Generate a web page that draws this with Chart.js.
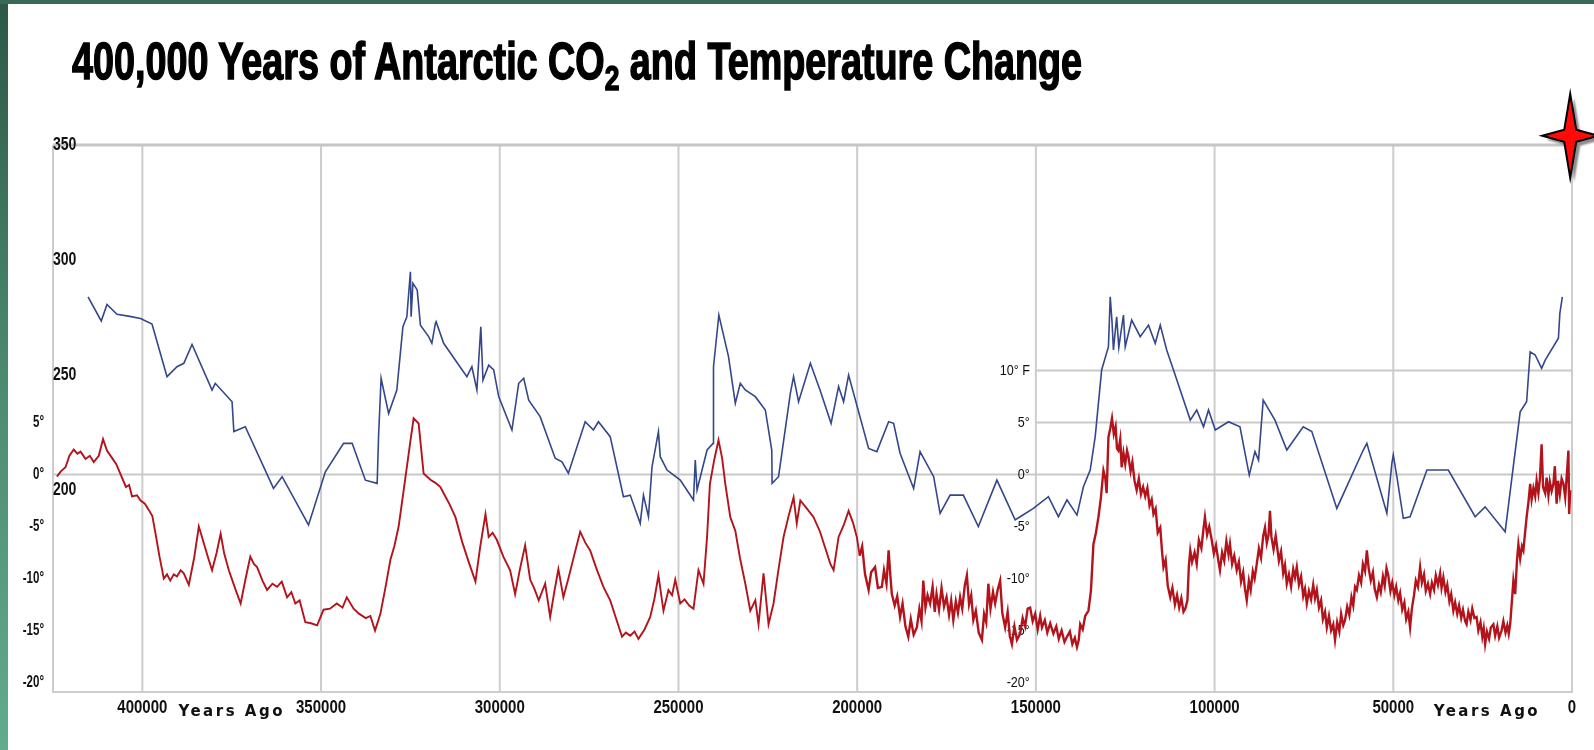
<!DOCTYPE html>
<html>
<head>
<meta charset="utf-8">
<script src="https://cdn.jsdelivr.net/npm/chart.js@4.4.1/dist/chart.umd.min.js"></script>
<style>
  html, body { margin: 0; padding: 0; background: #ffffff; }
  body { width: 1594px; height: 750px; position: relative; overflow: hidden; }
  canvas { position: absolute; left: 0; top: 0; }
  #frameLeft { position: absolute; left: 0; top: 0; width: 8px; height: 750px;
    background: linear-gradient(#2c5847, #4c8a70 50%, #62ab8e); }
  #frameTop { position: absolute; left: 0; top: 0; width: 1594px; height: 4px; background: #3b6957; }
  #title { position: absolute; left: 72px; top: 36px; white-space: nowrap; color: #000;
    font-family: "Liberation Sans Narrow", "Liberation Sans", sans-serif; font-weight: bold;
    font-size: 51px; line-height: 52px; -webkit-text-stroke: 1.5px #000; transform-origin: 0 0; }
  #title .sub { font-size: 0.7em; position: relative; top: 0.3em; }
</style>
</head>
<body>
<canvas id="chart" width="1594" height="750"></canvas>
<div id="frameLeft"></div>
<div id="frameTop"></div>
<div id="title">400,000 Years of Antarctic CO<span class="sub">2</span> and Temperature Change</div>
<script>
// Axis ticks and labels
const yearTicks = [400000, 350000, 300000, 250000, 200000, 150000, 100000, 50000, 0];
const yearTickLabels = ['400000', '350000', '300000', '250000', '200000', '150000', '100000', '50000', '0'];
const co2Ticks = [350, 300, 250, 200];
const co2TickLabels = ['350', '300', '250', '200'];
const tempTicksLeft = [5, 0, -5, -10, -15, -20];
const tempLabelsLeft = ['5°', '0°', '-5°', '-10°', '-15°', '-20°'];
const tempTicksRight = [10, 5, 0, -5, -10, -15, -20];
const tempLabelsRight = ['10° F', '5°', '0°', '-5°', '-10°', '-15°', '-20°'];
const axisTitle = 'Years Ago';
const axisTitleAges = [375000, 23800];
const todayMarker = [500, 354]; // [years ago, ppm]

// CO2 record: [years ago, ppm]
const co2Record = [
  [415200,284],[411500,273.5],[409900,280.7],[407100,276.4],[403500,275.5],[400500,274.6],[397300,272.2],
  [393100,249.3],[390300,253.6],[388400,255.1],[386100,263.3],[380500,243.5],[379600,246.4],[374900,238.4],
  [374400,225.4],[371200,227.5],[363300,200.7],[360900,205.8],[353500,184.8],[348800,207.9],[343700,220.3],
  [341300,220.3],[337600,204.3],[334300,202.9],[333900,223.9],[333200,248.6],[331100,233.3],[328800,243.5],
  [327100,271],[326000,275.3],[325000,294.9],[324800,275.3],[324300,289.9],[323100,287],[322200,271.7],
  [319900,266.7],[319000,263.8],[318000,272.5],[317800,273.2],[315700,263.8],[309200,249.3],[307800,253.6],
  [306400,243.5],[305300,271],[304700,247.8],[303100,254.3],[301700,252.2],[300300,240.6],[296600,226.1],
  [294700,246.4],[293300,248.6],[291900,239.1],[288700,231.9],[284500,213.8],[282600,212.3],[280800,207.3],
  [276100,229.7],[273800,226.1],[272400,229.7],[269100,223.2],[265400,197.1],[263500,197.8],[260700,185.5],
  [259800,197.8],[258400,188.4],[257400,210.1],[255600,225.4],[255100,214.5],[253200,208.7],[249500,204.3],
  [245800,195.7],[245300,213],[244800,200],[242000,217.4],[240300,220.3],[240200,253.6],[238700,276.1],
  [236000,258],[234100,237.7],[232700,246.4],[231300,243.5],[228500,240.6],[225700,234.8],[223900,217.4],
  [223800,202.9],[222000,205.8],[218700,242],[217800,249.3],[216400,238.4],[213100,255.1],[210400,243.5],
  [207300,229],[205200,245],[203800,238.4],[202400,250],[196800,218.1],[194500,216.7],[191200,229.7],
  [189800,229],[188000,216],[184200,200.7],[182400,216.7],[178600,205.8],[176800,189.9],[174000,197.8],
  [170300,197.8],[166100,184.1],[160900,204.3],[155800,187],[154400,188.4],[150700,192],[146500,197.1],
  [143700,188.4],[141300,195.7],[138500,189.1],[136700,201.4],[134800,208.7],[133400,223.2],[131600,252.2],
  [129700,262.3],[129200,284],[128700,273.2],[128300,260.9],[127400,275.3],[126800,262],[125500,276.1],
  [125000,262.3],[123200,273.9],[120800,266.7],[118500,271.7],[116600,263.8],[115200,271.7],[113400,260.9],
  [111500,252.2],[106800,230.4],[105000,234.8],[103100,227.5],[101700,234.8],[99800,226.1],[96100,229.7],
  [92900,227.5],[90300,206.5],[88700,216.7],[87700,213],[86400,239.1],[83100,230.4],[79800,217.4],
  [75200,227.5],[72800,225.4],[65800,192],[58400,217.4],[57400,220.3],[51800,189.9],[50400,211.6],
  [50000,215.2],[49000,205.8],[47200,187.7],[45300,188.4],[40600,208.7],[34600,208.7],[27100,188.4],
  [24300,192.7],[18700,181.9],[16900,204.3],[14500,234],[12700,238.4],[11700,260.1],[10300,258.7],
  [8500,252.9],[7500,256.5],[3800,266],[3400,276.8],[2700,284]
];

// Temperature change record: [years ago, °C relative to present]
const tempRecord = [
  [423900,-0.2],[422800,0.3],[421500,0.7],[420400,1.8],[419200,2.4],[418200,2.0],[417300,2.2],[415900,1.5],
  [414700,1.8],[413600,1.2],[412200,1.8],[411000,3.4],[409900,2.3],[408500,1.6],[407300,1.0],[406200,0.1],
  [404600,-1.2],[403700,-1.0],[402900,-2.1],[401500,-2.0],[400500,-2.5],[399300,-2.8],[398200,-3.4],
  [397200,-4.0],[396300,-5.7],[395200,-7.9],[394000,-10],[393100,-9.6],[392200,-10.2],[391200,-9.6],
  [390300,-9.8],[389300,-9.2],[388400,-9.5],[387000,-10.6],[385500,-8],[384200,-5],[383500,-5.8],[382800,-6.6],
  [381600,-8.0],[380500,-9.2],[379200,-7.5],[378100,-5.7],[377100,-7.6],[375800,-9.2],[374200,-10.8],
  [372500,-12.4],[371100,-10.0],[369800,-7.9],[368800,-8.6],[367900,-8.9],[366400,-10.2],[365100,-11.1],
  [363600,-10.5],[362300,-10.8],[361000,-10.3],[359500,-11.8],[358300,-11.3],[357200,-12.4],[356000,-12.1],
  [354400,-14.2],[352800,-14.3],[351100,-14.5],[349300,-13],[347500,-12.9],[345600,-12.4],[344000,-12.8],
  [342800,-11.8],[340900,-12.9],[339300,-13.4],[337500,-13.8],[336200,-13.6],[334900,-15],[333400,-13.4],
  [332000,-10.9],[330600,-8.2],[329500,-6.9],[328300,-5],[327200,-2.3],[326000,0.7],[325000,3.2],[324100,5.4],
  [322700,4.9],[321300,0.1],[319400,-0.5],[318000,-0.8],[316600,-1.2],[315700,-1.8],[314000,-2.9],
  [312400,-4.1],[310500,-6.5],[308700,-8.4],[306800,-10.3],[305500,-7.0],[304000,-3.8],[303100,-6],
  [302000,-5.6],[300800,-6.3],[299000,-7.9],[297100,-9.2],[295700,-11.5],[294300,-9.0],[292900,-6.8],
  [291500,-10.1],[290300,-11.0],[289100,-12.1],[287300,-10.5],[285900,-13.7],[284700,-11.2],[283600,-9.1],
  [282200,-11.8],[280800,-10],[279200,-7.8],[277500,-5.5],[276000,-6.6],[274700,-7.3],[273000,-9.0],
  [271000,-10.8],[269100,-12.1],[267500,-13.8],[265800,-15.6],[264700,-15.2],[263500,-15.5],[262300,-15.1],
  [261200,-15.8],[259500,-14.9],[257900,-13.7],[256700,-11.9],[255600,-9.7],[254200,-13.1],[252800,-11.1],
  [251800,-11.6],[250900,-10.1],[249500,-12.4],[248300,-12.0],[247000,-12.6],[245800,-12.9],[244400,-9.2],
  [243000,-10.5],[242000,-6.0],[241200,-0.9],[240000,1.4],[238800,3.3],[237800,1.6],[236900,-0.9],
  [235500,-4.1],[234100,-5.4],[232800,-8.0],[231300,-10.5],[229900,-13.1],[228500,-12.1],[227600,-14.4],
  [226200,-9.5],[224800,-14.4],[223400,-12.4],[222000,-9.1],[220600,-6],[219200,-4.0],[217800,-2.2],
  [216900,-4.7],[215900,-2.5],[214000,-3.3],[212200,-4.1],[210400,-5.5],[209000,-7.0],[207500,-8.6],
  [206600,-9.2],[205200,-6],[203800,-4.9],[202400,-3.5],[201200,-4.6],
  [200100,-6.0],[199300,-7.8],[198600,-6.9],[197800,-9.6],[196800,-11.1],[196100,-9.4],[195000,-8.9],
  [194200,-10.9],[193100,-10.8],[192500,-9.2],[191800,-10.5],[191200,-7.3],[190700,-9.8],[190300,-11.5],
  [189500,-12.6],[188800,-11.7],[188000,-13.7],[187300,-12.4],[186500,-14.6],[185700,-15.6],[185000,-13.9],
  [184200,-15.4],[183300,-14.7],[182600,-12.9],[182000,-14.1],[181500,-10.2],[180900,-12.8],[180300,-11.6],
  [179600,-12.4],[178900,-10.8],[178300,-13.2],[177800,-11.5],[177100,-13.0],[176400,-10.9],[175700,-12.7],
  [175000,-11.8],[174300,-13.5],[173700,-12.1],[173100,-14.0],[172400,-12.2],[171800,-13.3],[171200,-11.8],
  [170600,-12.9],[169900,-10.7],[169300,-9.7],[168700,-12.5],[168100,-11.6],[167500,-14.0],[166800,-13.1],
  [166000,-15.2],[165100,-15.9],[164500,-13.4],[163900,-14.2],[163300,-10.5],[162700,-12.9],[162000,-11.3],
  [161400,-12.4],[160700,-11.1],[160000,-10.2],[159400,-13.3],[158600,-14.7],[157900,-13.2],[157300,-15.5],
  [156700,-16.3],[156000,-14.6],[155300,-15.9],[154400,-15.3],[153700,-13.8],[153000,-14.6],[152300,-12.9],
  [151600,-12.8],[150900,-14.1],[150200,-13.4],[149500,-14.9],[148800,-13.6],[148300,-14.7],[147500,-14.0],
  [146800,-15.2],[146000,-14.3],[145100,-15.3],[144300,-14.6],[143600,-15.8],[142800,-15.0],[142000,-16.1],
  [141300,-15.6],[140500,-15.1],[139800,-16.3],[139100,-15.7],[138500,-16.6],[138000,-15.9],[137600,-14.4],
  [136900,-14.9],[136200,-13.6],[135300,-13.1],[134600,-11.2],[133900,-6.7],[133200,-5.6],[132500,-4.1],
  [131800,-2.2],[131100,0.4],[130600,-0.3],[130200,-1.8],[129700,3.6],[129200,4.4],[128700,5.4],
  [128200,3.9],[127700,4.6],[127300,2.5],[126900,2.3],[126400,3.4],[126000,0.7],[125500,2.1],[125000,1.0],
  [124500,2.3],[124100,1.7],[123500,0.3],[123000,1.2],[122400,-0.6],[121800,-1.5],[121200,-0.4],
  [120600,-1.9],[120000,-1.2],[119400,-2.1],[118800,-1.3],[118200,-3.0],[117600,-2.4],[117100,-3.8],
  [116500,-3.3],[115900,-5.6],[115200,-5.1],[114700,-7.4],[114300,-8.9],[113700,-8.2],[113100,-10.7],
  [112400,-11.8],[111800,-10.9],[111100,-12.5],[110500,-11.6],[109900,-12.8],[109300,-11.9],[108700,-13.2],
  [108200,-12.9],[107600,-12.1],[107200,-8.8],[106800,-7.3],[106300,-8.4],[105600,-7.5],[105000,-8.6],
  [104400,-6.3],[103700,-7.1],[103100,-5.2],[102700,-4.1],[102100,-5.8],[101500,-5.0],[100800,-6.3],
  [100200,-7.6],[99600,-6.8],[98900,-8.4],[98500,-9.2],[97900,-7.5],[97300,-8.3],[96700,-6.4],[96100,-7.7],
  [95700,-6.7],[95100,-8.6],[94500,-7.8],[93800,-9.2],[93200,-8.4],[92600,-10.3],[92000,-9.4],[91500,-11.0],
  [91000,-12.1],[90400,-10.2],[89900,-11.1],[89300,-9.3],[88800,-10.0],[88200,-8.6],[87600,-7.1],[87000,-8.0],
  [86400,-5.9],[85900,-5.1],[85400,-6.6],[84900,-5.8],[84500,-3.5],[84100,-6.0],[83500,-7.2],[82900,-5.9],
  [82600,-6.7],[82000,-8.3],[81400,-7.4],[80800,-9.5],[80300,-8.7],[79800,-10.5],[79200,-9.6],[78600,-10.8],
  [78000,-9.1],[77500,-9.9],[77000,-8.9],[76400,-10.6],[75800,-9.8],[75200,-11.7],[74700,-11.0],[74200,-12.4],
  [73600,-11.2],[73000,-12.0],[72400,-10.6],[71900,-11.9],[71400,-11.1],[70800,-12.8],[70200,-12.1],
  [69700,-13.9],[69100,-13.2],[68600,-14.7],[68000,-13.6],[67400,-15.0],[66800,-14.4],[66300,-15.9],
  [65700,-14.2],[65100,-15.1],[64600,-13.4],[64000,-14.5],[63500,-14.0],[62900,-12.7],[62300,-13.5],
  [61700,-11.8],[61200,-12.6],[60700,-10.8],[60200,-11.1],[59600,-9.7],[59000,-10.4],[58500,-8.6],
  [57900,-9.3],[57400,-7.3],[56900,-9.0],[56300,-10.2],[55700,-9.4],[55200,-11.0],[54600,-11.8],[54000,-10.6],
  [53500,-11.3],[52900,-9.8],[52400,-10.7],[51900,-9.0],[51400,-9.7],[50800,-11.2],[50300,-10.4],[49700,-11.6],
  [49200,-10.8],[48600,-12.1],[48100,-11.4],[47500,-13.0],[46900,-12.3],[46400,-13.9],[45800,-13.2],
  [45300,-14.7],[44800,-12.9],[44200,-11.6],[43700,-10.2],[43100,-10.8],[42500,-8.9],[42000,-10.4],
  [41400,-9.6],[40900,-11.2],[40300,-10.5],[39700,-11.5],[39200,-10.4],[38600,-11.1],[38100,-9.7],
  [37500,-10.6],[36900,-9.5],[36500,-10.9],[36000,-9.9],[35400,-11.3],[34900,-10.6],[34300,-12.2],
  [33800,-11.5],[33200,-13.1],[32700,-12.3],[32100,-13.4],[31600,-12.6],[31000,-13.8],[30500,-13.0],
  [29900,-14.1],[29500,-14.4],[29000,-13.2],[28400,-14.0],[27900,-12.9],[27300,-13.8],[26700,-13.7],
  [26200,-15.0],[25600,-14.2],[25100,-15.6],[24700,-14.8],[24300,-16.3],[23800,-15.1],[23200,-15.8],
  [22700,-14.7],[22000,-14.4],[21500,-15.5],[20900,-14.6],[20400,-15.7],[19700,-15.0],[19200,-14.1],
  [18600,-15.2],[18100,-14.5],[17700,-15.3],[17300,-14.4],[16800,-12.1],[16400,-10.2],[15900,-11.5],
  [15400,-8.3],[15000,-6.7],[14500,-8.1],[14000,-6.9],[13600,-7.3],[13100,-5.5],[12700,-4.1],[12200,-2.7],
  [11700,-0.9],[11300,-2.4],[10800,-1.3],[10300,-2.1],[9900,-0.6],[9400,-1.8],[9000,-0.5],[8500,2.9],
  [8100,-1.2],[7500,-1.8],[7100,-0.3],[6600,-2.0],[6200,-0.7],[5700,-1.6],[5200,-0.9],[4800,0.8],[4300,-2.8],
  [3900,-0.6],[3400,-1.9],[2900,-0.4],[2400,-0.9],[1900,-2.2],[1400,0.2],[1000,2.3],[800,-3.8],[500,-1.5]
];

// Title: squeeze the bold face to the condensed width of the heading
const titleEl = document.getElementById('title');
titleEl.style.transform = 'scaleX(' + (1010 / titleEl.getBoundingClientRect().width) + ')';

const toPoints = rec => rec.map(([age, v]) => ({ x: age, y: v }));

const SANS = '"Liberation Sans", Arial, sans-serif';

// Condensed text: draw with a horizontal squeeze around the anchor point
function squeezedText(ctx, text, px, py, align, sx) {
  ctx.save();
  ctx.translate(px, py);
  ctx.scale(sx, 1);
  ctx.textAlign = align;
  ctx.fillText(text, 0, 0);
  ctx.restore();
}

// Grid, tick labels and the present-day marker
const backdrop = {
  id: 'backdrop',
  beforeDatasetsDraw(chart) {
    const { ctx, chartArea: a, scales: { x, co2, temp } } = chart;
    ctx.save();
    const vLine = (age, w, c) => {
      const px = x.getPixelForValue(age);
      ctx.strokeStyle = c; ctx.lineWidth = w;
      ctx.beginPath(); ctx.moveTo(px, a.top); ctx.lineTo(px, a.bottom); ctx.stroke();
    };
    const hLine = (py, x0, x1, w, c) => {
      ctx.strokeStyle = c; ctx.lineWidth = w;
      ctx.beginPath(); ctx.moveTo(x0, py); ctx.lineTo(x1, py); ctx.stroke();
    };
    yearTicks.forEach(age => vLine(age, 2, '#cdcdcd'));
    vLine(x.max, 2, '#cdcdcd');
    hLine(co2.getPixelForValue(co2Ticks[0]), a.left, a.right + 1, 3, '#c6c6c6');
    hLine(a.bottom, a.left - 1, a.right + 1, 2, '#cdcdcd');
    hLine(temp.getPixelForValue(0), a.left, a.right, 2, '#c9c9c9');
    [10, 5].forEach(v => hLine(temp.getPixelForValue(v), x.getPixelForValue(150000), a.right, 2, '#c9c9c9'));

    ctx.fillStyle = '#111';
    ctx.textBaseline = 'middle';

    // CO2 (ppm) labels sitting on the left axis
    ctx.font = 'bold 18px ' + SANS;
    co2Ticks.forEach((v, i) => squeezedText(ctx, co2TickLabels[i], a.left, co2.getPixelForValue(v), 'left', 0.78));

    // Temperature labels, left block
    ctx.font = 'bold 16px ' + SANS;
    tempTicksLeft.forEach((v, i) => squeezedText(ctx, tempLabelsLeft[i], a.left - 9, temp.getPixelForValue(v), 'right', 0.72));

    // Temperature labels, right block (last 150,000 years)
    ctx.font = '15px ' + SANS;
    const rx = x.getPixelForValue(150000) - 6;
    tempTicksRight.forEach((v, i) => squeezedText(ctx, tempLabelsRight[i], rx, temp.getPixelForValue(v), 'right', 0.84));

    // Year labels
    ctx.font = 'bold 19px ' + SANS;
    yearTicks.forEach((age, i) => squeezedText(ctx, yearTickLabels[i], x.getPixelForValue(age), a.bottom + 16, 'center', 0.79));

    ctx.font = 'bold 15px "DejaVu Sans", sans-serif';
    ctx.textAlign = 'center';
    ctx.letterSpacing = '2.5px';
    axisTitleAges.forEach(age => ctx.fillText(axisTitle, x.getPixelForValue(age), a.bottom + 20));
    ctx.restore();
  },
  afterDraw(chart) {
    const { ctx, scales: { x, co2 } } = chart;
    const cx = x.getPixelForValue(todayMarker[0]);
    const cy = co2.getPixelForValue(todayMarker[1]);
    const R = 42, W = 28, r = 6;
    ctx.save();
    ctx.beginPath();
    ctx.moveTo(cx, cy - R);
    ctx.lineTo(cx + r, cy - r);
    ctx.lineTo(cx + W, cy);
    ctx.lineTo(cx + r, cy + r);
    ctx.lineTo(cx, cy + R);
    ctx.lineTo(cx - r, cy + r);
    ctx.lineTo(cx - W, cy);
    ctx.lineTo(cx - r, cy - r);
    ctx.closePath();
    ctx.shadowColor = 'rgba(0,0,0,0.45)';
    ctx.shadowOffsetX = 4; ctx.shadowOffsetY = 4; ctx.shadowBlur = 2;
    ctx.fillStyle = '#ff0a0a';
    ctx.fill();
    ctx.shadowColor = 'transparent';
    ctx.lineJoin = 'miter';
    ctx.lineWidth = 2;
    ctx.strokeStyle = '#000';
    ctx.stroke();
    ctx.restore();
  }
};

new Chart(document.getElementById('chart'), {
  type: 'line',
  data: {
    datasets: [
      { label: 'Temperature', data: toPoints(tempRecord), yAxisID: 'temp',
        borderColor: '#b3141c', borderWidth: 1.8, pointRadius: 0, tension: 0,
        segment: { borderWidth: c => (c.p0.parsed.x < 200000 ? 2.4 : 1.9) } },
      { label: 'CO2', data: toPoints(co2Record), yAxisID: 'co2',
        borderColor: '#34478b', borderWidth: 1.6, pointRadius: 0, tension: 0 }
    ]
  },
  options: {
    responsive: false,
    animation: false,
    events: [],
    layout: { padding: { left: 53, right: 22, top: 145, bottom: 58 } },
    plugins: { legend: { display: false }, tooltip: { enabled: false } },
    scales: {
      x: { type: 'linear', reverse: true, min: 0, max: 425000, display: false },
      co2: { type: 'linear', min: 112.2, max: 350, display: false },
      temp: { type: 'linear', min: -20.91, max: 31.68, display: false }
    }
  },
  plugins: [backdrop]
});
</script>
</body>
</html>
